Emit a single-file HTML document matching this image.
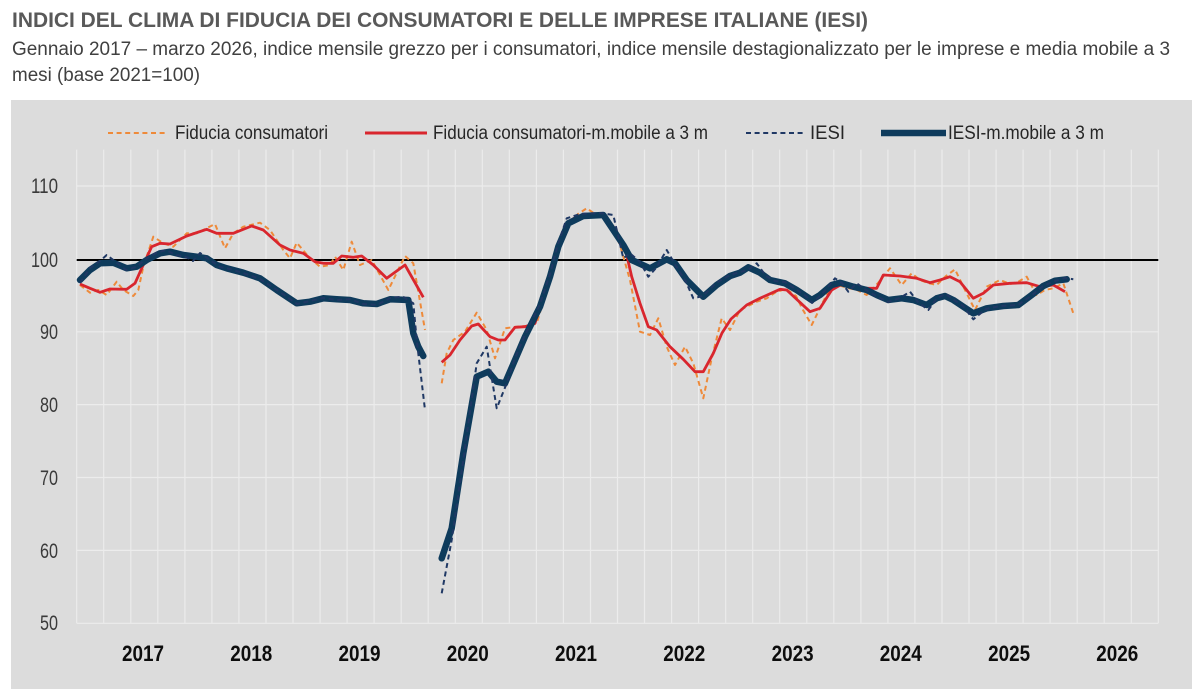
<!DOCTYPE html>
<html><head><meta charset="utf-8"><style>
html,body{margin:0;padding:0;background:#fff;}
svg{display:block;}
text{font-family:"Liberation Sans Narrow","Liberation Sans",sans-serif;}
</style></head><body>
<svg width="1200" height="700" viewBox="0 0 1200 700" xmlns="http://www.w3.org/2000/svg">
<rect x="0" y="0" width="1200" height="700" fill="#ffffff"/>
<text x="12" y="27" font-size="21" font-weight="bold" fill="#595959" textLength="856" lengthAdjust="spacingAndGlyphs">INDICI DEL CLIMA DI FIDUCIA DEI CONSUMATORI E DELLE IMPRESE ITALIANE (IESI)</text>
<text x="12" y="55" font-size="19" fill="#404040" textLength="1158" lengthAdjust="spacingAndGlyphs">Gennaio 2017 – marzo 2026, indice mensile grezzo per i consumatori, indice mensile destagionalizzato per le imprese e media mobile a 3</text>
<text x="12" y="81" font-size="19" fill="#404040" textLength="188" lengthAdjust="spacingAndGlyphs">mesi (base 2021=100)</text>

<rect x="11" y="100" width="1181" height="589" fill="#dcdcdc"/>

<!-- legend -->
<line x1="108" y1="133" x2="168" y2="133" stroke="#ee8a3a" stroke-width="2" stroke-dasharray="5,3.6"/>
<text x="175" y="139" font-size="19" fill="#262626" textLength="153" lengthAdjust="spacingAndGlyphs">Fiducia consumatori</text>
<line x1="365" y1="133" x2="427" y2="133" stroke="#d9262e" stroke-width="3"/>
<text x="433" y="139" font-size="19" fill="#262626" textLength="275" lengthAdjust="spacingAndGlyphs">Fiducia consumatori-m.mobile a 3 m</text>
<line x1="746" y1="133" x2="806" y2="133" stroke="#1f3864" stroke-width="2" stroke-dasharray="5,3.6"/>
<text x="810" y="139" font-size="19" fill="#262626" textLength="35" lengthAdjust="spacingAndGlyphs">IESI</text>
<line x1="881" y1="133" x2="946" y2="133" stroke="#0e3b5c" stroke-width="6.5"/>
<text x="948" y="139" font-size="19" fill="#262626" textLength="156" lengthAdjust="spacingAndGlyphs">IESI-m.mobile a 3 m</text>

<!-- gridlines -->
<g stroke="#ececec" stroke-width="1.2" fill="none">
<path d="M76.7 149.6V623.3M103.7 149.6V623.3M130.8 149.6V623.3M157.8 149.6V623.3M184.9 149.6V623.3M211.9 149.6V623.3M238.9 149.6V623.3M266 149.6V623.3M293 149.6V623.3M320.1 149.6V623.3M347.1 149.6V623.3M374.1 149.6V623.3M401.2 149.6V623.3M428.2 149.6V623.3M455.3 149.6V623.3M482.3 149.6V623.3M509.3 149.6V623.3M536.4 149.6V623.3M563.4 149.6V623.3M590.5 149.6V623.3M617.5 149.6V623.3M644.5 149.6V623.3M671.6 149.6V623.3M698.6 149.6V623.3M725.7 149.6V623.3M752.7 149.6V623.3M779.7 149.6V623.3M806.8 149.6V623.3M833.8 149.6V623.3M860.9 149.6V623.3M887.9 149.6V623.3M914.9 149.6V623.3M942 149.6V623.3M969 149.6V623.3M996.1 149.6V623.3M1023.1 149.6V623.3M1050.1 149.6V623.3M1077.2 149.6V623.3M1104.2 149.6V623.3M1131.3 149.6V623.3M1158.3 149.6V623.3"/>
<path d="M76.7 186H1158.3M76.7 331.8H1158.3M76.7 404.6H1158.3M76.7 477.5H1158.3M76.7 550.4H1158.3M76.7 623.3H1158.3"/>
</g>
<line x1="76.7" y1="260" x2="1158.3" y2="260" stroke="#000" stroke-width="2"/>

<!-- y labels -->
<g font-size="21" fill="#3a3a3a" text-anchor="end">
<text x="58" y="193" textLength="27" lengthAdjust="spacingAndGlyphs">110</text>
<text x="58" y="267" textLength="27" lengthAdjust="spacingAndGlyphs">100</text>
<text x="58" y="339" textLength="18" lengthAdjust="spacingAndGlyphs">90</text>
<text x="58" y="412" textLength="18" lengthAdjust="spacingAndGlyphs">80</text>
<text x="58" y="485" textLength="18" lengthAdjust="spacingAndGlyphs">70</text>
<text x="58" y="558" textLength="18" lengthAdjust="spacingAndGlyphs">60</text>
<text x="58" y="630" textLength="18" lengthAdjust="spacingAndGlyphs">50</text>
</g>
<!-- x labels -->
<g font-size="22" font-weight="bold" fill="#0d0d0d">
<text x="122" y="661" textLength="42" lengthAdjust="spacingAndGlyphs">2017</text>
<text x="230.3" y="661" textLength="42" lengthAdjust="spacingAndGlyphs">2018</text>
<text x="338.5" y="661" textLength="42" lengthAdjust="spacingAndGlyphs">2019</text>
<text x="446.8" y="661" textLength="42" lengthAdjust="spacingAndGlyphs">2020</text>
<text x="555" y="661" textLength="42" lengthAdjust="spacingAndGlyphs">2021</text>
<text x="663.3" y="661" textLength="42" lengthAdjust="spacingAndGlyphs">2022</text>
<text x="771.6" y="661" textLength="42" lengthAdjust="spacingAndGlyphs">2023</text>
<text x="879.8" y="661" textLength="42" lengthAdjust="spacingAndGlyphs">2024</text>
<text x="988.1" y="661" textLength="42" lengthAdjust="spacingAndGlyphs">2025</text>
<text x="1096.3" y="661" textLength="42" lengthAdjust="spacingAndGlyphs">2026</text>
</g>

<!-- orange dashed: consumer raw -->
<g fill="none" stroke="#ee8a3a" stroke-width="2" stroke-dasharray="5,3.6" stroke-linejoin="round">
<polyline points="80,285 90,292.7 98.3,290 106.7,295 116.7,281.7 123.3,290 133.3,296 138.3,290 143.3,266.7 153.3,236.7 163.3,243.3 173.3,246.7 186.7,233.3 196.7,233.3 215,224 225,248.3 233.3,233.3 243.3,226.7 260,222.7 270,230 283.3,250 290,258.3 296.7,242.7 310,258.3 320,266.7 330,265 335,256.7 343.3,270 351.7,241.7 360,265 371.7,260 388.3,290 405,256 413.3,263.3 425,330"/>
<polyline points="441.7,383.3 446.7,353.3 453.3,340 465,331.7 476.7,312.7 486.7,330 495,358.3 505,328.3 516.7,326.7 526.7,326 536.7,323.3 541.7,306.7 550,278 558,248 568,224 578,214 586.7,208.3 595,214 601.7,216.7 610,222 620,245 630,280 640,331.7 650,335 658.3,318.3 666.7,346.7 675,365 685,346.7 693.3,363.3 703.3,398.3 711.7,358.3 721.7,318.3 730,330 740,310 748,306 756,302 766.7,298.3 776,292 786,289 796,296 803,310 811.7,325 820,308 828,292 838,285 848,288 857,290 866.7,295 878,283 890,268.3 901.7,285 911.7,273.3 920,280 928,283 936.7,285 946,276 955,269.3 964,288 975,310 986.7,286.7 1000,280 1010,284 1018,282 1026.7,276.7 1036.7,295 1045,290 1053.3,288.3 1063.3,283.3 1073.3,313.3"/>
</g>
<!-- red: consumer MA -->
<g fill="none" stroke="#d9262e" stroke-width="2.8" stroke-linejoin="round">
<polyline points="80,284 90,288.3 100,292.3 110,289 126.7,289.3 135,283.3 141.7,268.3 151.7,246.7 160,243.3 170,244 186.7,236 206.7,229.3 216.7,233.3 233.3,233.3 251.7,226 263.3,230 280,245 290,250 303.3,253.3 315,261.7 323.3,263.3 333.3,263.3 341.7,256 353.3,257.3 361.7,256 373.3,265 386.7,278.3 405,265 423.3,297.3"/>
<polyline points="441.7,362.3 450,355 460,340 471.7,326 478.3,324 490,336.7 498.3,340 505,340 515,327.3 525,326.7 535,323.3 540,306.7 550,277 556.7,248 566.7,223 576,217 586.7,215 605,215 616.7,231.7 626.7,255 631.7,276.7 640,303.3 648.3,326.7 656.7,330 670,346.7 683.3,359.3 695,371.7 703.3,371.7 713.3,353.3 722,333 731,319 746.7,305 760,298.3 780,289.3 786.7,290 810,311.7 820,308.3 831.7,290 843.3,283.3 855,286.7 866.7,288.3 876.7,288.3 883.3,275 900,276 916.7,278.3 930,282.7 940,280 950,276.7 960,281.7 973.3,298.3 983.3,293.3 993.3,285 1010,283.3 1026.7,282.7 1040,286.7 1053.3,285 1065,291.7"/>
</g>
<!-- navy thick: IESI MA -->
<g fill="none" stroke="#0e3b5c" stroke-width="6.5" stroke-linejoin="round" stroke-linecap="round">
<polyline points="80,280 90,270 100,263.3 113.3,262.7 126.7,268.3 136.7,266.7 146.7,260 160,253.3 170,251.7 183.3,255 196.7,256.7 206.7,258.3 216.7,265 226.7,268.3 243.3,272.7 260,278.3 276.7,290 296.7,303.3 310,301.7 323.3,298.3 336.7,299.3 350,300 363.3,303.3 376.7,304 390,299.3 408.3,300 413.3,333.3 418.3,346.7 423.3,356"/>
<polyline points="441.7,558.3 451.7,528.3 463.3,453.3 476.7,376.7 488.3,371.7 496.7,381.7 505,383.3 515,360 525,336.7 540,306.7 550,276.7 558.3,246.7 568.3,223.3 583.3,216 603.3,215 613.3,230 623.3,245 631.7,260 650,268.3 666.7,259.3 675,263.3 686.7,280 703.3,296.7 716.7,285 730,276 740,272.7 748.3,267.3 760,272.7 770,280 785,283.3 796.7,290 811.7,300 820,295 831.7,285 840,282.7 853.3,286.7 866.7,290 876.7,295 888.3,300 901.7,298.3 913.3,300 926.7,305 936.7,298.3 945,296 953.3,300 963.3,306.7 973.3,313.3 986.7,308.3 1003.3,306 1018.3,305 1031.7,295 1043.3,286 1055,280.7 1066.7,279.3"/>
</g>
<!-- navy dashed: IESI raw -->
<g fill="none" stroke="#1f3864" stroke-width="2" stroke-dasharray="5,3.6" stroke-linejoin="round">
<polyline points="80,283 90,268 100,261 106.7,255 116,262 126,270 136,267 146,259 156,253 166,250 176,255 186,257 193,261 200,253 210,260 220,267 230,269 243,273 260,279 277,290 297,304 310,301 323,298 337,300 350,299 363,304 377,305 390,298 403,296.7 413.3,303.3 416.7,340 425,410"/>
<polyline points="441.7,593.3 451.7,540 463.3,460 476.7,363.3 486.7,346.7 496.7,408.3 506.7,383.3 515,358 525,335 540,304 550,274 558,244 566.7,218.3 580,214 600,213 613.3,215 623.3,258.3 630,253.3 640,262 648.3,276.7 656,268 666.7,250 676,266 686,282 693.3,298.3 703,296 716,283 730,275 740,272 748,270 756.7,263.3 766,276 775,281 785,282 797,290 806,296 812,303 820,296 828,287 835,278.3 842,283 848.3,291.7 856.7,283.3 866,290 876,296 888,302 900,298 910,291.7 918,302 928.3,310 937,298 946,294 954,300 963,306 973.3,319.3 986,309 1000,306 1018,305 1031,296 1043,286 1055,281 1065,278 1073.3,279.3"/>
</g>
</svg>
</body></html>
